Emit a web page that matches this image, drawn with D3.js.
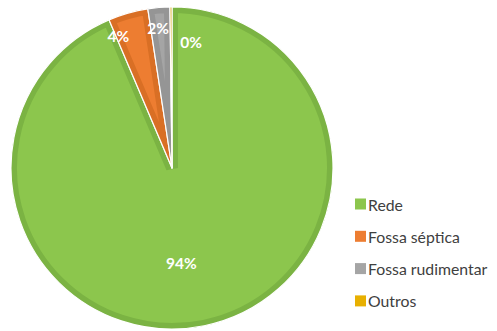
<!DOCTYPE html>
<html><head><meta charset="utf-8">
<script src="https://cdn.jsdelivr.net/npm/d3@7"></script>
<style>body{margin:0;background:#fff}svg{display:block}</style>
</head><body>
<svg id="c" width="497" height="331"></svg>
<script>
const categories = ["Rede", "Fossa séptica", "Fossa rudimentar", "Outros"];
const values = [93.6, 4.0, 2.2, 0.2];
const colors = ["#8cc64d", "#ed7d31", "#a5a5a5", "#e8b000"];
const borders = ["#7bb343", "#d96f25", "#959595", "#d4a000"];

const svg = d3.select("#c");
const cx = 172, cy = 168, R = 161;
const font = "Lato, 'Open Sans', sans-serif";

const pie = d3.pie().sort(null).value(d => d.v);
const data = pie(categories.map((c, i) => ({c, v: values[i], i})));
const arc = d3.arc().innerRadius(0).outerRadius(R);

const g = svg.append("g").attr("transform", `translate(${cx},${cy})`);
const defs = svg.append("defs");
data.forEach((d, i) => {
  defs.append("clipPath").attr("id", "cl" + i).append("path").attr("d", arc(d));
});
const slices = g.selectAll("g.s").data(data).join("g").attr("class", "s");
slices.append("path").attr("d", arc).attr("fill", d => colors[d.data.i]);
slices.append("path").attr("d", arc).attr("fill", "none")
  .attr("stroke", d => borders[d.data.i]).attr("stroke-width", 12)
  .attr("clip-path", (d, i) => `url(#cl${i})`);
slices.append("path").attr("d", arc).attr("fill", "none")
  .attr("stroke", "#fff").attr("stroke-width", 1.2).attr("stroke-linejoin", "round");

// label layout (style): radius factor and nudges
const labelStyle = {
  "Rede": {r: 0.6, dx: -10, dy: 0},
  "Fossa séptica": {r: 0.9, dx: -14, dy: 7},
  "Fossa rudimentar": {r: 0.9, dx: -2, dy: 4},
  "Outros": {r: 0.8, dx: 20, dy: 3}
};
slices.append("text")
  .attr("transform", d => {
    const s = labelStyle[d.data.c];
    const a = (d.startAngle + d.endAngle) / 2;
    const rr = R * s.r;
    return `translate(${Math.sin(a) * rr + s.dx},${-Math.cos(a) * rr + s.dy})`;
  })
  .attr("text-anchor", "middle").attr("dominant-baseline", "central")
  .attr("fill", "#fff").attr("font-family", font).attr("font-weight", "bold")
  .attr("font-size", 15.5)
  .text(d => Math.round(d.data.v) + "%");

const lg = svg.append("g").attr("transform", "translate(355,204)");
const items = lg.selectAll("g").data(categories).join("g")
  .attr("transform", (d, i) => `translate(0,${i * 32.3})`);
items.append("rect").attr("x", 0).attr("y", -5.5).attr("width", 11).attr("height", 11)
  .attr("fill", (d, i) => colors[i]);
items.append("text").attr("x", 13).attr("y", 0).attr("dominant-baseline", "central")
  .attr("font-family", font).attr("font-size", 15.8).attr("fill", "#404040").text(d => d);
</script>
</body></html>
